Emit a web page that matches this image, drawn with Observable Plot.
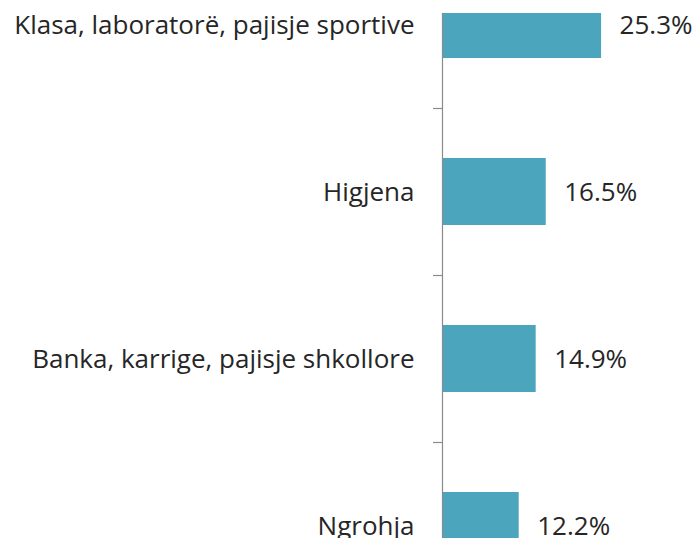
<!DOCTYPE html>
<html>
<head>
<meta charset="utf-8">
<script src="https://cdn.jsdelivr.net/npm/d3@7"></script>
<script src="https://cdn.jsdelivr.net/npm/@observablehq/plot@0.6"></script>
<style>
  html, body { margin: 0; padding: 0; background: #fff; }
  #chart svg { display: block; }
</style>
</head>
<body>
<div id="chart"></div>
<script>
const categories = [
  "Klasa, laboratorë, pajisje sportive",
  "Higjena",
  "Banka, karrige, pajisje shkollore",
  "Ngrohja"
];
const values = [25.3, 16.5, 14.9, 12.2];

const data = categories.map((c, i) => ({cat: c, value: values[i]}));

const barColor = "#4BA5BD";
const axisColor = "#8a8a8a";
const textColor = "#262626";
const fontFamily = "'Open Sans', 'Noto Sans', sans-serif";

const chart = Plot.plot({
  width: 696,
  height: 538,
  marginLeft: 442,
  marginRight: 0,
  marginTop: 13,
  marginBottom: 0,
  style: {fontFamily, background: "#fff"},
  x: {domain: [0, 40.4], axis: null},
  y: {
    domain: categories,
    range: [-59.5, 608.5],
    paddingInner: 0.6,
    paddingOuter: 0.3,
    axis: null
  },
  marks: [
    Plot.barX(data, {y: "cat", x: "value", fill: barColor, clip: true}),
    Plot.ruleX([0], {stroke: axisColor, strokeWidth: 1.2}),
    Plot.ruleY(categories.slice(0, 3), {
      y: d => d, dy: 83.5, x1: 0, x2: 0, insetLeft: -9,
      stroke: axisColor, strokeWidth: 1.2
    }),
    Plot.text(data, {
      y: "cat", x: 0, text: "cat", dx: -28, dy: 1,
      textAnchor: "end", fontSize: 26, fill: textColor
    }),
    Plot.text(data, {
      y: "cat", x: "value", text: d => d.value.toFixed(1) + "%",
      dx: 18, dy: 1, textAnchor: "start", fontSize: 26, fill: textColor
    })
  ]
});

document.getElementById("chart").appendChild(chart);
</script>
</body>
</html>
